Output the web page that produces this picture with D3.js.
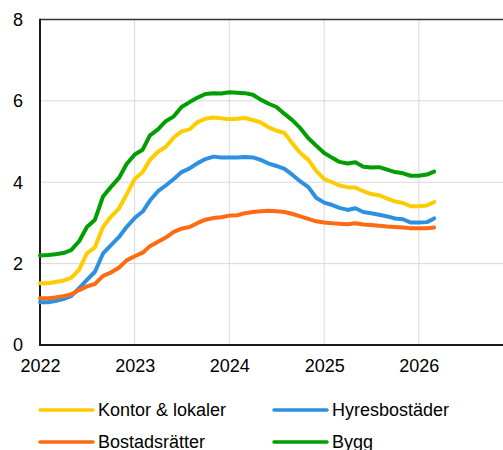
<!DOCTYPE html>
<html>
<head>
<meta charset="utf-8">
<script src="https://cdn.jsdelivr.net/npm/d3@7"></script>
<style>
  body { margin: 0; background: #fff; }
  svg { display: block; font-family: "Liberation Sans", Arial, sans-serif; }
</style>
</head>
<body>
<div id="chart"></div>
<script>
const width = 503;
const height = 450;

// monthly values, Jan 2022 - Mar 2026
const kontor = [1.52, 1.52, 1.55, 1.58, 1.65, 1.85, 2.25, 2.40, 2.90, 3.15, 3.35, 3.70, 4.08, 4.25, 4.55, 4.75, 4.87, 5.10, 5.25, 5.30, 5.48, 5.56, 5.59, 5.57, 5.55, 5.56, 5.58, 5.53, 5.47, 5.35, 5.27, 5.21, 4.95, 4.72, 4.55, 4.28, 4.08, 4.00, 3.92, 3.88, 3.87, 3.78, 3.71, 3.68, 3.60, 3.53, 3.49, 3.41, 3.41, 3.43, 3.51];
const hyres = [1.05, 1.05, 1.08, 1.13, 1.20, 1.40, 1.60, 1.80, 2.25, 2.45, 2.65, 2.90, 3.12, 3.28, 3.55, 3.78, 3.92, 4.08, 4.25, 4.34, 4.47, 4.57, 4.63, 4.61, 4.61, 4.61, 4.62, 4.61, 4.55, 4.46, 4.40, 4.33, 4.18, 4.02, 3.88, 3.62, 3.50, 3.44, 3.37, 3.32, 3.36, 3.27, 3.24, 3.20, 3.16, 3.11, 3.09, 3.01, 3.01, 3.02, 3.11];
const bostad = [1.15, 1.15, 1.17, 1.20, 1.24, 1.35, 1.44, 1.50, 1.70, 1.78, 1.90, 2.08, 2.18, 2.27, 2.43, 2.54, 2.64, 2.78, 2.86, 2.90, 3.00, 3.08, 3.12, 3.14, 3.18, 3.19, 3.24, 3.27, 3.29, 3.30, 3.29, 3.27, 3.22, 3.16, 3.10, 3.04, 3.01, 2.99, 2.98, 2.97, 2.99, 2.96, 2.95, 2.93, 2.91, 2.90, 2.89, 2.87, 2.87, 2.87, 2.89];
const bygg = [2.20, 2.21, 2.23, 2.26, 2.33, 2.55, 2.90, 3.08, 3.65, 3.88, 4.10, 4.45, 4.68, 4.80, 5.15, 5.30, 5.50, 5.62, 5.85, 5.97, 6.08, 6.17, 6.19, 6.18, 6.21, 6.20, 6.19, 6.15, 6.03, 5.93, 5.85, 5.68, 5.52, 5.33, 5.08, 4.90, 4.72, 4.60, 4.50, 4.46, 4.49, 4.38, 4.36, 4.37, 4.31, 4.25, 4.22, 4.16, 4.16, 4.19, 4.26];

const seriesNames = ["Kontor & lokaler", "Hyresbostäder", "Bostadsrätter", "Bygg"];
const seriesColors = ["#ffcc00", "#2e90e0", "#ff6a13", "#009e00"];
const yTicks = [0, 2, 4, 6, 8];
const xTickYears = [2022, 2023, 2024, 2025, 2026];

const dates = d3.timeMonth.range(new Date(2022, 0, 1), new Date(2022, kontor.length, 1));
const series = [kontor, hyres, bostad, bygg].map((vals, i) => ({
  name: seriesNames[i],
  color: seriesColors[i],
  values: vals.map((v, j) => ({ date: dates[j], value: v }))
}));

const margin = { left: 40, top: 19.5, bottom: 345 };

const x = d3.scaleTime()
  .domain([new Date(2022, 0, 1), new Date(2027, 0, 1)])
  .range([margin.left, margin.left + 5 * 94.7]);

const y = d3.scaleLinear()
  .domain([0, 8])
  .range([margin.bottom, margin.top]);

const svg = d3.select("#chart")
  .append("svg")
  .attr("width", width)
  .attr("height", height);

// grid
svg.append("g")
  .selectAll("line")
  .data(yTicks.filter(d => d > 0 && d < 8))
  .enter()
  .append("line")
  .attr("x1", margin.left)
  .attr("x2", width)
  .attr("y1", d => y(d))
  .attr("y2", d => y(d))
  .attr("stroke", "#d9d9d9")
  .attr("stroke-width", 1);

svg.append("g")
  .selectAll("line")
  .data(xTickYears.slice(1))
  .enter()
  .append("line")
  .attr("x1", d => x(new Date(d, 0, 1)))
  .attr("x2", d => x(new Date(d, 0, 1)))
  .attr("y1", margin.top)
  .attr("y2", margin.bottom)
  .attr("stroke", "#d9d9d9")
  .attr("stroke-width", 1);

// top border
svg.append("line")
  .attr("x1", margin.left)
  .attr("x2", width)
  .attr("y1", margin.top)
  .attr("y2", margin.top)
  .attr("stroke", "#333")
  .attr("stroke-width", 1.5);

// axes
const yAxis = svg.append("g")
  .attr("transform", `translate(${margin.left},0)`)
  .call(d3.axisLeft(y).tickValues(yTicks).tickSize(0).tickPadding(17));
yAxis.select(".domain").remove();
yAxis.selectAll("text").attr("font-size", 18).attr("fill", "#000").attr("font-family", "Liberation Sans, Arial, sans-serif");

const xAxis = svg.append("g")
  .attr("transform", `translate(0,${margin.bottom})`)
  .call(d3.axisBottom(x).tickValues(xTickYears.map(yr => new Date(yr, 0, 1))).tickFormat(d3.timeFormat("%Y")).tickSize(0).tickPadding(14));
xAxis.select(".domain").remove();
xAxis.selectAll("text").attr("font-size", 18).attr("fill", "#000").attr("font-family", "Liberation Sans, Arial, sans-serif");

svg.append("line")
  .attr("x1", margin.left)
  .attr("x2", margin.left)
  .attr("y1", margin.top - 0.75)
  .attr("y2", margin.bottom + 1)
  .attr("stroke", "#1a1a1a")
  .attr("stroke-width", 2);

svg.append("line")
  .attr("x1", margin.left - 1)
  .attr("x2", width)
  .attr("y1", margin.bottom)
  .attr("y2", margin.bottom)
  .attr("stroke", "#1a1a1a")
  .attr("stroke-width", 2);

// lines
const line = d3.line()
  .x(d => x(d.date))
  .y(d => y(d.value));

svg.selectAll(".series")
  .data(series)
  .enter()
  .append("path")
  .attr("class", "series")
  .attr("d", d => line(d.values))
  .attr("fill", "none")
  .attr("stroke", d => d.color)
  .attr("stroke-width", 4)
  .attr("stroke-linejoin", "round")
  .attr("stroke-linecap", "round");

// legend
const legendPos = [[40, 410], [274, 410], [40, 442], [274, 442]];
const legend = svg.selectAll(".legend")
  .data(series)
  .enter()
  .append("g")
  .attr("class", "legend")
  .attr("transform", (d, i) => `translate(${legendPos[i][0]},${legendPos[i][1]})`);

legend.append("line")
  .attr("x1", 0)
  .attr("x2", 53)
  .attr("stroke", d => d.color)
  .attr("stroke-width", 3.5)
  .attr("stroke-linecap", "round");

legend.append("text")
  .attr("x", 58)
  .attr("dy", "0.35em")
  .attr("font-size", 18)
  .attr("fill", "#000")
  .text(d => d.name);
</script>
</body>
</html>
